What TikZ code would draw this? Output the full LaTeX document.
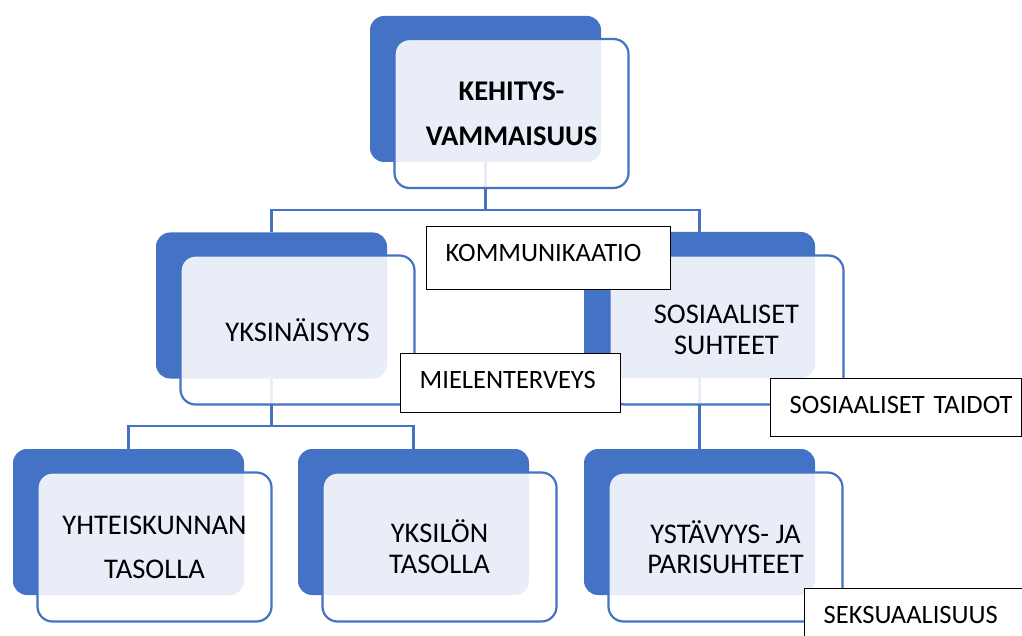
\documentclass[tikz,border=0pt]{standalone}
\usepackage{fontspec}
\setmainfont{Carlito}
\definecolor{obl}{HTML}{4472C4}
\begin{document}
\begin{tikzpicture}[x=1pt,y=-1pt,
  back/.style={fill=obl, rounded corners=14pt, minimum width=231pt, minimum height=146pt, inner sep=0pt},
  front/.style={draw=obl, line width=2.2pt, fill=white, fill opacity=0.88, draw opacity=1, text opacity=1,
    rounded corners=15pt, minimum width=234pt, minimum height=149pt, inner sep=0pt, align=center},
  conn/.style={draw=obl, line width=2.2pt},
  tag/.style={draw=black, line width=1.4pt, fill=white, anchor=north west, inner xsep=19pt,
    inner ysep=0pt, text height=35pt, align=left, font=\fontsize{26.5}{30}\selectfont}]
\useasboundingbox (0,0) rectangle (1022,636);
\clip (0,0) rectangle (1022,636);
% back boxes
\node[back] (b0) at (485.5,89) {};
\node[back] (b1) at (271.5,305.5) {};
\node[back] (b2) at (699.5,305) {};
\node[back] (b3) at (128.5,522) {};
\node[back] (b4) at (413.5,522) {};
\node[back] (b5) at (699.5,522) {};
% connectors
\coordinate (j0) at (485.5,210);
\coordinate (j1) at (271.5,426);
\draw[conn] (b0.south) -- (j0) -| (b1.north);
\draw[conn] (j0) -| (b2.north);
\draw[conn] (b1.south) -- (j1) -| (b3.north);
\draw[conn] (j1) -| (b4.north);
\draw[conn] (b2.south) -- (b5.north);
% front boxes
\node[front, font=\bfseries\fontsize{28.5}{45}\selectfont] (f0) at (511.5,113.5) {KEHITYS-\\VAMMAISUUS};
\node[front, font=\fontsize{28.5}{31}\selectfont] (f1) at (297.5,330) {YKSINÄISYYS};
\node[front, font=\fontsize{28.5}{31.5}\selectfont] (f2) at (726.5,330) {SOSIAALISET\\SUHTEET};
\node[front, font=\fontsize{28.5}{44}\selectfont] (f3) at (154.5,547) {YHTEISKUNNAN\\TASOLLA};
\node[front, font=\fontsize{28.5}{30.7}\selectfont] (f4) at (439.5,547) {YKSILÖN\\TASOLLA};
\node[front, font=\fontsize{28.5}{30}\selectfont] (f5) at (725.5,547) {YSTÄVYYS- JA\\PARISUHTEET};
% text boxes
\node[tag, text width=206pt, text depth=28pt] (k1) at (426,226) {\mbox{KOMMUNIKAATIO}};
\node[tag, text width=182pt, text depth=24pt] (k2) at (400,353) {\mbox{MIELENTERVEYS}};
\node[tag, text width=213pt, text depth=23pt] (k3) at (770,378) {\mbox{SOSIAALISET TAIDOT}};
\node[tag, text width=210pt, text depth=30pt] (k4) at (804,588) {\mbox{SEKSUAALISUUS}};
\end{tikzpicture}
\end{document}
